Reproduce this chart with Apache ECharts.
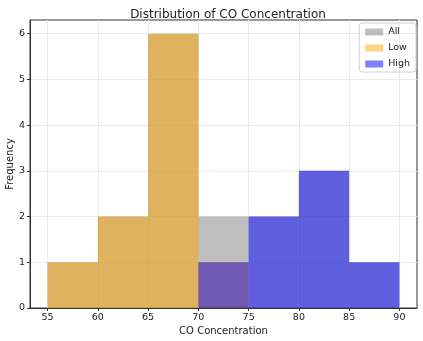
<!DOCTYPE html>
<html><head><meta charset="utf-8">
<script src="https://cdn.jsdelivr.net/npm/echarts@6/dist/echarts.min.js"></script>
<style>html,body{margin:0;padding:0;background:#fff}#c{width:423px;height:341px}</style>
</head><body><div id="c"></div>
<script>
const binEdges = [55, 60, 65, 70, 75, 80, 85, 90];
const allCounts = [1, 2, 6, 2, 2, 3, 1];
const lowCounts = [1, 2, 6, 1, 0, 0, 0];
const highCounts = [0, 0, 0, 1, 2, 3, 1];
const xTicks = [55, 60, 65, 70, 75, 80, 85, 90];
const yTicks = [0, 1, 2, 3, 4, 5, 6];

function toData(counts) {
  return counts.map((c, i) => [binEdges[i], binEdges[i + 1], c]).filter(d => d[2] > 0);
}
function renderItem(params, api) {
  const p0 = api.coord([api.value(0), api.value(2)]);
  const p1 = api.coord([api.value(1), 0]);
  return {
    type: 'rect',
    shape: { x: p0[0], y: p0[1], width: p1[0] - p0[0], height: p1[1] - p0[1] },
    style: { fill: api.visual('color') }
  };
}
const font = 'DejaVu Sans';
const chart = echarts.init(document.getElementById('c'), null, { renderer: 'canvas' });
chart.setOption({
  animation: false,
  textStyle: { fontFamily: font },
  title: {
    text: 'Distribution of CO Concentration', left: 223, top: 4, textAlign: 'center',
    textStyle: { fontFamily: font, fontSize: 12, fontWeight: 'normal', color: '#222' }
  },
  legend: {
    right: 7, top: 23, orient: 'vertical', itemWidth: 18, itemHeight: 7, itemGap: 6,
    icon: 'rect', borderColor: '#d0d0d0', borderWidth: 1, borderRadius: 3, padding: [4, 6, 3, 6],
    textStyle: { fontFamily: font, fontSize: 9.5, color: '#222' },
    data: ['All', 'Low', 'High']
  },
  grid: { left: 30, right: 6, top: 20, bottom: 33, show: true, borderColor: '#333', borderWidth: 1, containLabel: false, outerBoundsMode: 'none' },
  xAxis: {
    type: 'value', min: 53.25, max: 91.75,
    name: 'CO Concentration', nameLocation: 'middle', nameGap: 18, nameMoveOverlap: false,
    nameTextStyle: { fontFamily: font, fontSize: 10, color: '#222' },
    axisLine: { show: true, lineStyle: { color: '#333' } },
    axisTick: { show: true, length: 3, customValues: xTicks, lineStyle: { color: '#333' } },
    axisLabel: { customValues: xTicks, fontFamily: font, fontSize: 9.5, color: '#222', margin: 5 },
    splitLine: { show: true, lineStyle: { color: '#ebebeb', width: 1 } }
  },
  yAxis: {
    type: 'value', min: 0, max: 6.3,
    name: 'Frequency', nameLocation: 'middle', nameGap: 15, nameRotate: 90, nameMoveOverlap: false,
    nameTextStyle: { fontFamily: font, fontSize: 10, color: '#222' },
    axisLine: { show: true, lineStyle: { color: '#333' } },
    axisTick: { show: true, length: 3, customValues: yTicks, lineStyle: { color: '#333' } },
    axisLabel: { customValues: yTicks, fontFamily: font, fontSize: 9.5, color: '#222', margin: 5 },
    splitLine: { show: true, lineStyle: { color: '#ebebeb', width: 1 } }
  },
  series: [
    { name: 'All', type: 'custom', renderItem, itemStyle: { color: 'rgba(128,128,128,0.5)' }, encode: { x: [0, 1], y: 2 }, data: toData(allCounts) },
    { name: 'Low', type: 'custom', renderItem, itemStyle: { color: 'rgba(255,165,0,0.5)' }, encode: { x: [0, 1], y: 2 }, data: toData(lowCounts) },
    { name: 'High', type: 'custom', renderItem, itemStyle: { color: 'rgba(0,0,255,0.5)' }, encode: { x: [0, 1], y: 2 }, data: toData(highCounts) }
  ]
});
</script></body></html>
